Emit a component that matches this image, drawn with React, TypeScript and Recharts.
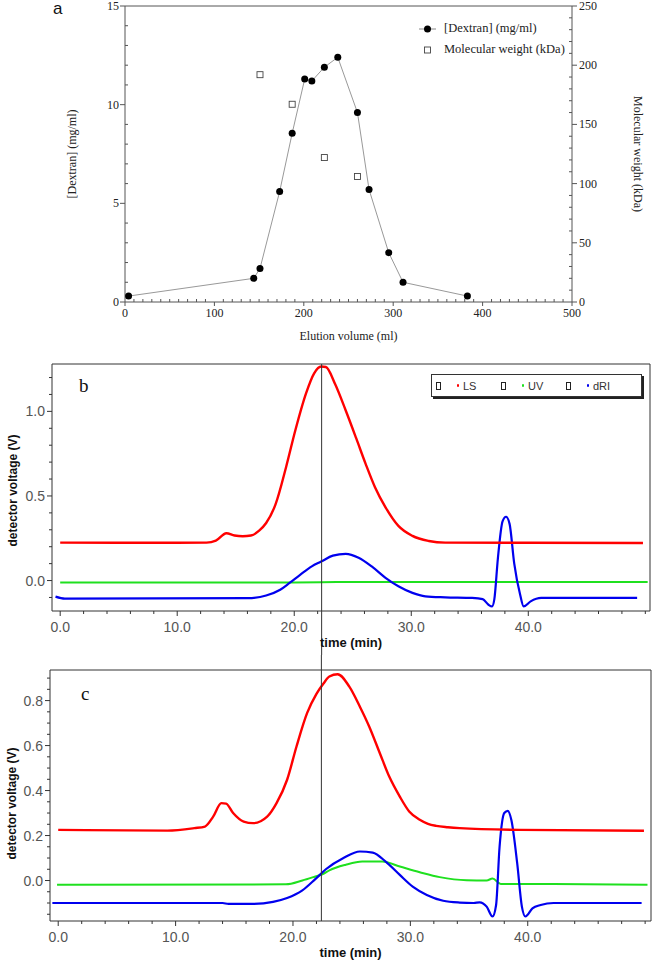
import React from 'react'
import { LineChart, Line, XAxis, YAxis, ReferenceLine, Legend } from 'recharts'

// ---- panel a: elution profile ----
const volume = [4, 144, 151, 173, 187, 201, 209, 223, 238, 260, 273, 295, 311, 383]
const dextran = [0.3, 1.2, 1.7, 5.6, 8.55, 11.3, 11.2, 11.9, 12.4, 9.6, 5.7, 2.5, 1.0, 0.3]
const mwVolume = [151, 187, 223, 260]
const mwKda = [192, 167, 122, 106]
const elutionNames = ['[Dextran] (mg/ml)', 'Molecular weight (kDa)']

// ---- panels b and c: detector traces, [time (min), voltage (V)] ----
type Pt = [number, number]

const lsB: Pt[] = [
  [0, 0.224], [5, 0.223], [10, 0.223], [12.5, 0.224], [13.3, 0.236], [14.2, 0.28], [14.9, 0.266],
  [15.6, 0.262], [16.3, 0.266], [17.0, 0.295], [17.6, 0.34], [18.4, 0.45], [19.3, 0.67], [20.1, 0.89],
  [21.0, 1.105], [21.7, 1.225], [22.3, 1.265], [22.7, 1.262], [23.5, 1.16], [24.4, 1.005], [25.3, 0.84],
  [26.1, 0.69], [26.9, 0.552], [27.8, 0.433], [28.9, 0.323], [30.1, 0.264], [31.5, 0.234], [32.9, 0.224],
  [40, 0.223], [49.8, 0.222],
]
const uvB: Pt[] = [[0, -0.012], [20, -0.011], [24, -0.009], [50.2, -0.009]]
const driB: Pt[] = [
  [-0.4, -0.095], [0.4, -0.107], [16, -0.104], [17.6, -0.088], [18.8, -0.054], [19.6, -0.014], [20.5, 0.034],
  [21.5, 0.084], [22.3, 0.112], [23.3, 0.147], [24.4, 0.158], [25.5, 0.135], [26.7, 0.079], [27.8, 0.016],
  [28.9, -0.034], [30.1, -0.073], [31.2, -0.093], [32.9, -0.099], [35.2, -0.103], [36.1, -0.11],
  [36.6, -0.143], [36.9, -0.153], [37.1, -0.11], [37.4, 0.13], [37.8, 0.35], [38.1, 0.377], [38.4, 0.335],
  [38.8, 0.1], [39.3, -0.083], [39.6, -0.153], [40.2, -0.123], [41.1, -0.103], [49.3, -0.103],
]

const lsC: Pt[] = [
  [0, 0.225], [9.3, 0.222], [11.6, 0.233], [12.5, 0.24], [13.2, 0.284], [13.9, 0.344], [14.3, 0.342],
  [14.9, 0.3], [15.8, 0.262], [16.6, 0.255], [17.8, 0.284], [18.6, 0.344], [19.5, 0.448], [20.3, 0.596],
  [21.2, 0.744], [22.0, 0.83], [22.6, 0.876], [23.1, 0.907], [23.8, 0.917], [24.8, 0.862], [25.7, 0.773],
  [26.5, 0.684], [27.4, 0.566], [28.2, 0.462], [29.1, 0.373], [29.9, 0.307], [30.8, 0.27], [31.5, 0.252],
  [32.2, 0.243], [33.2, 0.237], [34.2, 0.233], [39.3, 0.225], [49.9, 0.221],
]
const uvC: Pt[] = [
  [-0.1, -0.019], [19.4, -0.017], [20.8, 0.0], [21.9, 0.018], [22.6, 0.03], [23.1, 0.045], [24.5, 0.07],
  [25.9, 0.084], [27.6, 0.084], [29.1, 0.062], [30.8, 0.037], [32.5, 0.015], [34.8, 0.001], [36.5, 0.0],
  [37.0, 0.009], [37.7, -0.015], [42.2, -0.016], [50.2, -0.019],
]
const driC: Pt[] = [
  [-0.5, -0.1], [14, -0.1], [14.5, -0.104], [16.6, -0.104], [18.3, -0.095], [19.5, -0.078], [20.8, -0.044],
  [21.9, 0.006], [22.8, 0.05], [24.3, 0.1], [25.7, 0.129], [26.8, 0.124], [27.9, 0.084], [29.1, 0.025],
  [30.2, -0.027], [31.4, -0.064], [32.8, -0.09], [34.2, -0.098], [35.4, -0.1], [35.9, -0.097],
  [36.5, -0.116], [37.0, -0.16], [37.3, -0.11], [37.6, 0.15], [38.0, 0.3], [38.3, 0.31], [38.6, 0.27],
  [39.1, 0.077], [39.5, -0.116], [39.8, -0.16], [40.4, -0.124], [41.1, -0.109], [42.2, -0.1], [49.7, -0.1],
]
const detectorNames = ['LS', 'UV', 'dRI']

// tick labels
const aXLabels = [0, 100, 200, 300, 400, 500]
const aLeftLabels = [0, 5, 10, 15]
const aRightLabels = [0, 50, 100, 150, 200, 250]
const timeLabels = [0, 10, 20, 30, 40]
const bYLabels = [0, 0.5, 1.0]
const cYLabels = [0, 0.2, 0.4, 0.6, 0.8]

const COLORS = { ls: '#ff0000', uv: '#1fe01f', dri: '#0000ee' }
const SERIF = '"Liberation Serif", "Times New Roman", serif'
const SANS = '"Liberation Sans", Arial, sans-serif'

function range(from: number, to: number, step: number) {
  const out: number[] = []
  for (let i = 0; from + i * step <= to + 1e-9; i++) out.push(Math.round((from + i * step) * 1000) / 1000)
  return out
}

const toRows = (pts: Pt[]) => pts.map(([t, v]) => ({ t, v }))

interface TickStyle {
  side: 'left' | 'right' | 'bottom'
  labels: number[]
  fmt: (v: number) => string
  majorLen: number // positive = outward
  minorLen: number // negative = inward
  gap: number
  font: string
  size: number
  fill: string
  stroke: string
}

function makeTick(s: TickStyle) {
  return (props: any) => {
    const { x, y, payload } = props
    const v = payload.value as number
    const major = s.labels.some((l) => Math.abs(l - v) < 1e-6)
    const len = major ? s.majorLen : s.minorLen
    const textProps = { fontFamily: s.font, fontSize: s.size, fill: s.fill, dominantBaseline: 'central' as const }
    if (s.side === 'bottom') {
      return (
        <g>
          <line x1={x} x2={x} y1={y} y2={y + len} stroke={s.stroke} />
          {major && (
            <text x={x} y={y + s.gap} textAnchor="middle" {...textProps}>
              {s.fmt(v)}
            </text>
          )}
        </g>
      )
    }
    const dir = s.side === 'left' ? -1 : 1
    return (
      <g>
        <line x1={x} x2={x + dir * len} y1={y} y2={y} stroke={s.stroke} />
        {major && (
          <text x={x + dir * s.gap} y={y} textAnchor={s.side === 'left' ? 'end' : 'start'} {...textProps}>
            {s.fmt(v)}
          </text>
        )}
      </g>
    )
  }
}

function axisTitle(text: string, kind: 'x' | 'y', dx: number, dy: number, angle: number, style: React.CSSProperties) {
  return (props: any) => {
    const vb = props.viewBox || { x: 0, y: 0, width: 0, height: 0 }
    const cx = kind === 'x' ? vb.x + vb.width / 2 + dx : vb.x + dx
    const cy = kind === 'x' ? vb.y + dy : vb.y + vb.height / 2 + dy
    return (
      <text
        x={cx}
        y={cy}
        textAnchor="middle"
        dominantBaseline="central"
        transform={angle ? `rotate(${angle} ${cx} ${cy})` : undefined}
        style={style}
      >
        {text}
      </text>
    )
  }
}

function SquareDot(props: any) {
  const { cx, cy, index } = props
  if (cx == null || cy == null) return <g key={index} />
  return <rect key={index} x={cx - 3} y={cy - 3} width={6} height={6} fill="#fff" stroke="#444" strokeWidth={0.9} />
}

function ElutionLegend() {
  const row: React.CSSProperties = { display: 'flex', alignItems: 'center', height: 21 }
  const label: React.CSSProperties = { fontFamily: SERIF, fontSize: 12.5, color: '#222', marginLeft: 8 }
  return (
    <div>
      <div style={row}>
        <svg width={17} height={10}>
          <line x1={0} x2={17} y1={5} y2={5} stroke="#888" />
          <circle cx={8.5} cy={5} r={3.5} fill="#000" />
        </svg>
        <span style={label}>{elutionNames[0]}</span>
      </div>
      <div style={row}>
        <svg width={17} height={10}>
          <rect x={5.5} y={2} width={6} height={6} fill="#fff" stroke="#444" strokeWidth={0.9} />
        </svg>
        <span style={label}>{elutionNames[1]}</span>
      </div>
    </div>
  )
}

function ElutionChart() {
  const dextranRows = volume.map((v, i) => ({ v, c: dextran[i] }))
  const mwRows = mwVolume.map((v, i) => ({ v, mw: mwKda[i] }))
  const base = { font: SERIF, size: 12, fill: '#222', stroke: '#555' }
  return (
    <LineChart width={653} height={345} margin={{ top: 6, right: 0, bottom: 0, left: 0 }}>
      <XAxis
        type="number"
        dataKey="v"
        domain={[0, 500]}
        allowDataOverflow
        ticks={range(0, 500, 10)}
        interval={0}
        height={43}
        axisLine={{ stroke: '#555' }}
        tickLine={false}
        tickSize={0}
        tickMargin={0}
        tick={makeTick({ ...base, side: 'bottom', labels: aXLabels, fmt: String, majorLen: 4, minorLen: -3, gap: 11 })}
        label={axisTitle('Elution volume (ml)', 'x', 0, 34, 0, { fontFamily: SERIF, fontSize: 12, fill: '#222' })}
      />
      <YAxis
        yAxisId="left"
        type="number"
        domain={[0, 15]}
        allowDataOverflow
        ticks={range(0, 15, 1)}
        interval={0}
        width={125}
        axisLine={{ stroke: '#555' }}
        tickLine={false}
        tickSize={0}
        tickMargin={0}
        tick={makeTick({ ...base, side: 'left', labels: aLeftLabels, fmt: String, majorLen: 5, minorLen: -3, gap: 6 })}
        label={axisTitle('[Dextran] (mg/ml)', 'y', 72, 0, -90, { fontFamily: SERIF, fontSize: 12, fill: '#222' })}
      />
      <YAxis
        yAxisId="right"
        orientation="right"
        type="number"
        domain={[0, 250]}
        allowDataOverflow
        ticks={range(0, 250, 10)}
        interval={0}
        width={81}
        axisLine={{ stroke: '#555' }}
        tickLine={false}
        tickSize={0}
        tickMargin={0}
        tick={makeTick({ ...base, side: 'right', labels: aRightLabels, fmt: String, majorLen: 5, minorLen: -3, gap: 7 })}
        label={axisTitle('Molecular weight (kDa)', 'y', 66, 0, 90, { fontFamily: SERIF, fontSize: 12, fill: '#222' })}
      />
      <ReferenceLine yAxisId="left" y={15} stroke="#555" ifOverflow="visible" />
      <Legend
        layout="vertical"
        align="center"
        verticalAlign="middle"
        content={<ElutionLegend />}
        wrapperStyle={{ top: 18, left: 419, width: 'auto' }}
      />
      <Line
        yAxisId="left"
        data={dextranRows}
        dataKey="c"
        name={elutionNames[0]}
        type="linear"
        stroke="#999"
        strokeWidth={1}
        dot={{ r: 3.5, fill: '#000', stroke: '#000', strokeWidth: 0 }}
        activeDot={false}
        isAnimationActive={false}
      />
      <Line
        yAxisId="right"
        data={mwRows}
        dataKey="mw"
        name={elutionNames[1]}
        stroke="none"
        dot={SquareDot}
        activeDot={false}
        isAnimationActive={false}
      />
    </LineChart>
  )
}

function DetectorLegend() {
  const colors = [COLORS.ls, COLORS.uv, COLORS.dri]
  return (
    <div
      style={{
        display: 'flex',
        alignItems: 'center',
        width: 211,
        height: 23,
        boxSizing: 'border-box',
        paddingLeft: 4,
        border: '1px solid #333',
        boxShadow: '2px 2px 0 #222',
        background: '#fff',
      }}
    >
      {detectorNames.map((name, i) => (
        <div key={name} style={{ display: 'flex', alignItems: 'center', width: 65 }}>
          <span style={{ width: 2.5, height: 6, border: '1px solid #222', display: 'inline-block' }} />
          <span
            style={{ width: 2.5, height: 2.5, borderRadius: 2, background: colors[i], display: 'inline-block', marginLeft: 16 }}
          />
          <span style={{ fontFamily: SANS, fontSize: 11, color: '#333', marginLeft: 4 }}>{name}</span>
        </div>
      ))}
    </div>
  )
}

interface DetectorProps {
  ls: Pt[]
  uv: Pt[]
  dri: Pt[]
  height: number
  margin: { top: number; right: number; bottom: number; left: number }
  xDomain: [number, number]
  yDomain: [number, number]
  yTicks: number[]
  yLabels: number[]
  yWidth: number
  xHeight: number
  marker: number
  markerSpan: [number, number]
  yTitleDx: number
  yTitleDy: number
  xTitleDy: number
  showLegend?: boolean
}

function DetectorChart(p: DetectorProps) {
  const tickBase = { font: SANS, size: 14, fill: '#555', stroke: '#333' }
  return (
    <LineChart width={653} height={p.height} margin={p.margin}>
      <XAxis
        type="number"
        dataKey="t"
        domain={p.xDomain}
        allowDataOverflow
        ticks={range(0, 50, 2)}
        interval={0}
        height={p.xHeight}
        axisLine={{ stroke: '#333' }}
        tickLine={false}
        tickSize={0}
        tickMargin={0}
        tick={makeTick({ ...tickBase, side: 'bottom', labels: timeLabels, fmt: (v) => v.toFixed(1), majorLen: 5, minorLen: 3, gap: 16 })}
        label={axisTitle('time (min)', 'x', 0, p.xTitleDy, 0, { fontFamily: SANS, fontSize: 13, fontWeight: 'bold', fill: '#111' })}
      />
      <YAxis
        type="number"
        domain={p.yDomain}
        allowDataOverflow
        ticks={p.yTicks}
        interval={0}
        width={p.yWidth}
        axisLine={{ stroke: '#333' }}
        tickLine={false}
        tickSize={0}
        tickMargin={0}
        tick={makeTick({ ...tickBase, side: 'left', labels: p.yLabels, fmt: (v) => v.toFixed(1), majorLen: 5, minorLen: 3, gap: 7 })}
        label={axisTitle('detector voltage (V)', 'y', p.yTitleDx, p.yTitleDy, -90, {
          fontFamily: SANS,
          fontSize: 12,
          fontWeight: 'bold',
          fill: '#111',
        })}
      />
      <ReferenceLine y={p.yDomain[1]} stroke="#333" ifOverflow="visible" />
      <ReferenceLine x={p.xDomain[1]} stroke="#333" ifOverflow="visible" />
      {p.showLegend && (
        <Legend
          layout="vertical"
          align="center"
          verticalAlign="middle"
          content={<DetectorLegend />}
          wrapperStyle={{ top: 44, left: 431, width: 'auto' }}
        />
      )}
      <Line data={toRows(p.uv)} dataKey="v" name="UV" type="monotone" stroke={COLORS.uv} strokeWidth={2} dot={false} activeDot={false} isAnimationActive={false} />
      <Line data={toRows(p.dri)} dataKey="v" name="dRI" type="monotone" stroke={COLORS.dri} strokeWidth={2.2} dot={false} activeDot={false} isAnimationActive={false} />
      <Line data={toRows(p.ls)} dataKey="v" name="LS" type="monotone" stroke={COLORS.ls} strokeWidth={2.4} dot={false} activeDot={false} isAnimationActive={false} />
      <ReferenceLine
        segment={[
          { x: p.marker, y: p.markerSpan[0] },
          { x: p.marker, y: p.markerSpan[1] },
        ]}
        stroke="#333"
        ifOverflow="visible"
      />
    </LineChart>
  )
}

const letter = (font: string, size: number): React.CSSProperties => ({
  position: 'absolute',
  fontFamily: font,
  fontSize: size,
  lineHeight: `${size}px`,
  color: '#111',
})

export default function App() {
  return (
    <div style={{ position: 'absolute', left: 0, top: 0, width: 653, height: 962, background: '#fff', overflow: 'hidden' }}>
      <div style={{ position: 'absolute', left: 0, top: 0 }}>
        <ElutionChart />
      </div>
      <div style={{ position: 'absolute', left: 0, top: 330 }}>
        <DetectorChart
          ls={lsB}
          uv={uvB}
          dri={driB}
          height={325}
          margin={{ top: 34, right: 3, bottom: 0, left: 0 }}
          xDomain={[-0.7, 50.4]}
          yDomain={[-0.18, 1.28]}
          yTicks={range(-0.1, 1.2, 0.1)}
          yLabels={bYLabels}
          yWidth={52}
          xHeight={44}
          marker={22.34}
          markerSpan={[1.28, -0.7]}
          yTitleDx={13}
          yTitleDy={3}
          xTitleDy={31}
          showLegend
        />
      </div>
      <div style={{ position: 'absolute', left: 0, top: 655 }}>
        <DetectorChart
          ls={lsC}
          uv={uvC}
          dri={driC}
          height={307}
          margin={{ top: 15, right: 2, bottom: 0, left: 0 }}
          xDomain={[-0.7, 50.5]}
          yDomain={[-0.18, 0.936]}
          yTicks={range(-0.15, 0.9, 0.05)}
          yLabels={cYLabels}
          yWidth={50}
          xHeight={41}
          marker={22.42}
          markerSpan={[1.2, -0.18]}
          yTitleDx={12}
          yTitleDy={8}
          xTitleDy={31}
        />
      </div>
      <div style={{ ...letter(SANS, 17), left: 53, top: 0 }}>a</div>
      <div style={{ ...letter(SERIF, 19), left: 79, top: 376 }}>b</div>
      <div style={{ ...letter(SERIF, 19), left: 81, top: 684 }}>c</div>
    </div>
  )
}
